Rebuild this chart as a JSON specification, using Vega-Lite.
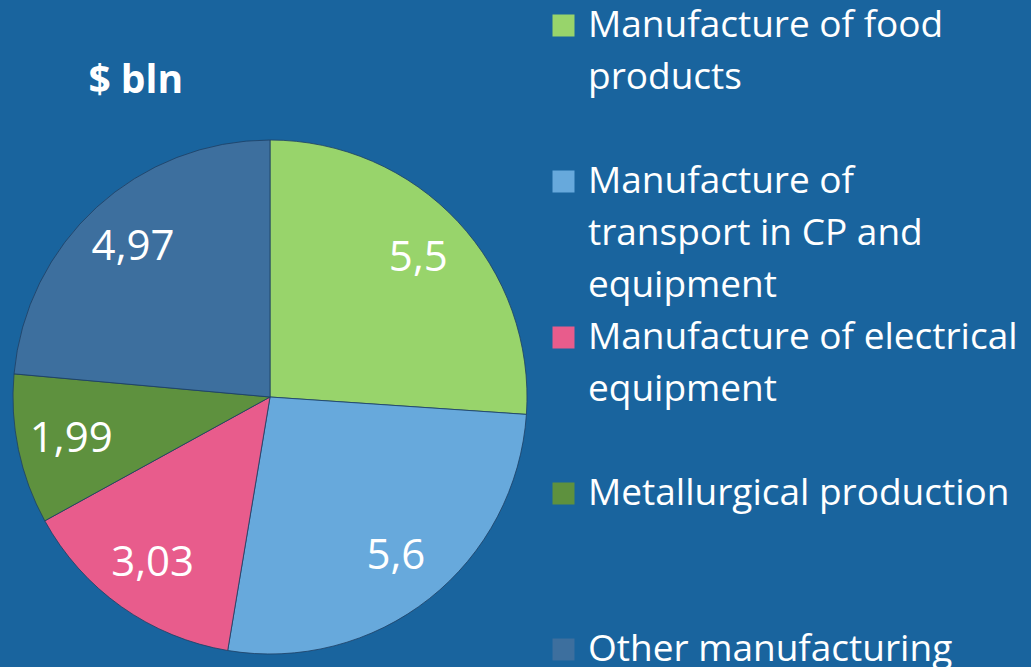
{
  "$schema": "https://vega.github.io/schema/vega-lite/v6.json",
  "width": 514,
  "height": 514,
  "autosize": {"type": "none"},
  "padding": {"left": 13, "top": 140, "right": 504, "bottom": 13},
  "background": "#19649e",
  "title": {"text": "$ bln", "anchor": "start", "dx": 77, "offset": 0, "dy": 125, "baseline": "alphabetic", "fontSize": 39, "font": "Open Sans", "fontWeight": "bold", "color": "white"},
  "data": {"values": [
    {"category": "Manufacture of food products", "value": 5.5},
    {"category": "Manufacture of transport in CP and equipment", "value": 5.6},
    {"category": "Manufacture of electrical equipment", "value": 3.03},
    {"category": "Metallurgical production", "value": 1.99},
    {"category": "Other manufacturing", "value": 4.97}
  ]},
  "transform": [{"window": [{"op": "row_number", "as": "idx"}]}],
  "encoding": {
    "theta": {"field": "value", "type": "quantitative", "stack": true},
    "order": {"field": "idx", "type": "quantitative"},
    "color": {
      "field": "category", "type": "nominal", "sort": null,
      "scale": {
        "domain": ["Manufacture of food products", "Manufacture of transport in CP and equipment", "Manufacture of electrical equipment", "Metallurgical production", "Other manufacturing"],
        "range": ["#98d46b", "#67a9dc", "#e85c8c", "#5e913e", "#3d6f9e"]
      },
      "legend": {
        "orient": "none", "legendX": 532, "legendY": -133, "title": null, "padding": 0,
        "symbolType": "square", "symbolSize": 484, "symbolStrokeWidth": 0,
        "labelFont": "Open Sans", "labelFontSize": 37, "labelColor": "white", "labelLimit": 600, "labelOffset": 6, "labelBaseline": "middle",
        "rowPadding": 14,
        "labelExpr": "datum.label == 'Manufacture of food products' ? ['Manufacture of food', 'products', ''] : datum.label == 'Manufacture of transport in CP and equipment' ? ['Manufacture of', 'transport in CP and', 'equipment'] : datum.label == 'Manufacture of electrical equipment' ? ['Manufacture of electrical', 'equipment', ''] : [datum.label, '', '']",
        "encode": {"labels": {"enter": {"lineHeight": {"value": 52}}, "update": {"lineHeight": {"value": 52}}}}
      }
    }
  },
  "layer": [
    {"mark": {"type": "arc", "stroke": "#1d3f63", "strokeWidth": 0.8}},
    {"mark": {"type": "text", "radius": 203, "font": "Open Sans", "fontSize": 42},
     "encoding": {"text": {"field": "value", "type": "quantitative"}, "color": {"value": "white"}}}
  ],
  "config": {
    "view": {"stroke": null},
    "style": {"guide-label": {"lineHeight": 52}},
    "locale": {"number": {"decimal": ",", "thousands": " ", "grouping": [3], "currency": ["$", ""]}}
  }
}
